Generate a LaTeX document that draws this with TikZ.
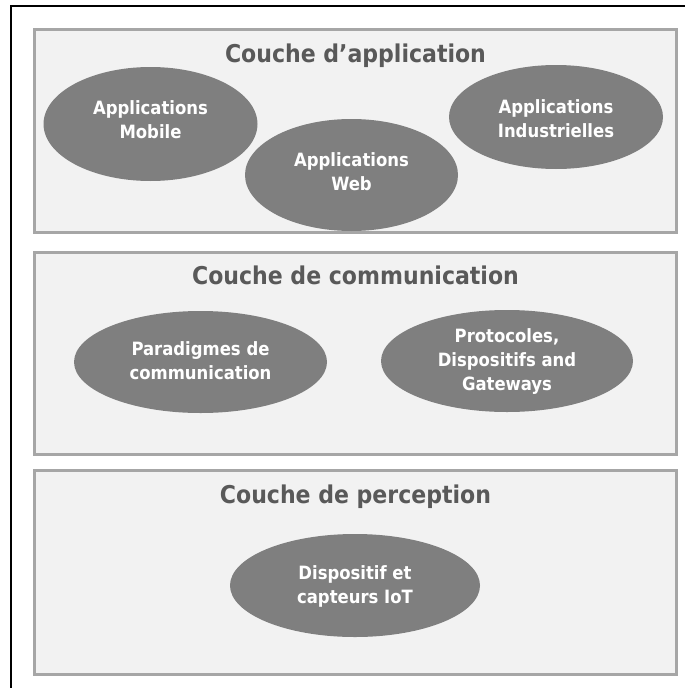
\documentclass[tikz,border=0pt]{standalone}
\usepackage{fontspec}
\setmainfont{DejaVu Sans Condensed}
\usetikzlibrary{shapes.geometric}
\definecolor{boxfill}{HTML}{F2F2F2}
\definecolor{boxline}{HTML}{A6A6A6}
\definecolor{ellfill}{HTML}{7F7F7F}
\definecolor{titlecol}{HTML}{595959}
\tikzset{
  layerbox/.style={fill=boxfill, draw=boxline, line width=3pt},
  layertitle/.style={anchor=base, text=titlecol, font=\fontsize{24.5}{29}\selectfont\bfseries, inner sep=0pt},
  bubble/.style={ellipse, fill=ellfill, draw=none, inner sep=0pt},
  bubbletext/.style={text=white, align=center, inner sep=0pt,
    font=\fontsize{18.3}{24}\selectfont\bfseries},
}
\begin{document}
\begin{tikzpicture}[x=1pt,y=-1pt]
\useasboundingbox (0,0) rectangle (685,688);
\fill[white] (0,0) rectangle (685,688);
% outer frame (top and left edges visible)
\draw[black, line width=1.5pt] (11,688) -- (11,6) -- (685,6);

% layer boxes
\draw[layerbox] (34.5,29.5) rectangle (676,232);
\draw[layerbox] (34.5,252.5) rectangle (676,454);
\draw[layerbox] (34.5,470.5) rectangle (676,674);

% titles
\node[layertitle] (t1) at (355.5,62) {Couche d’application};
\node[layertitle] (t2) at (355.5,284) {Couche de communication};
\node[layertitle] (t3) at (355.5,503) {Couche de perception};

% application layer
\node[bubble, minimum width=214pt, minimum height=114pt] (mob) at (150.5,124) {};
\node[bubbletext] (mobt) at (mob.center) [yshift=4pt] {Applications\\Mobile};
\node[bubble, minimum width=214pt, minimum height=104pt] (ind) at (556,117) {};
\node[bubbletext] (indt) at (ind.center) [yshift=-2pt] {Applications\\Industrielles};
\node[bubble, minimum width=213pt, minimum height=112pt] (web) at (351.5,175) {};
\node[bubbletext] (webt) at (web.center) [yshift=3pt] {Applications\\Web};

% communication layer
\node[bubble, minimum width=253pt, minimum height=102pt] (par) at (200.5,362) {};
\node[bubbletext] (part) at (par.center) [yshift=1pt] {Paradigmes de\\communication};
\node[bubble, minimum width=252pt, minimum height=102pt] (pro) at (507,361) {};
\node[bubbletext] (prot) at (pro.center) [yshift=-1pt] {Protocoles,\\Dispositifs and\\Gateways};

% perception layer
\node[bubble, minimum width=250pt, minimum height=103pt] (dis) at (355,585.5) {};
\node[bubbletext] (dist) at (dis.center) [yshift=-1pt] {Dispositif et\\capteurs IoT};
\end{tikzpicture}
\end{document}
